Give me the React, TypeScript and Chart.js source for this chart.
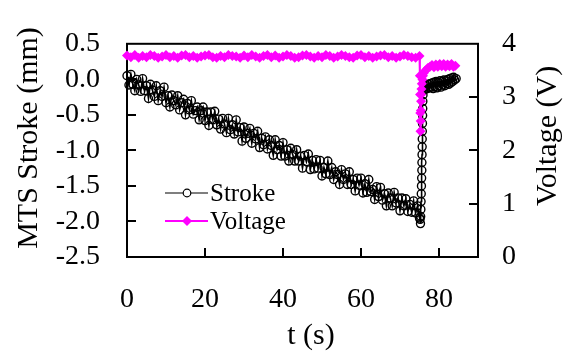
import React, { useEffect, useRef } from 'react';
import { Chart, registerables } from 'chart.js';

Chart.register(...registerables);

// ---- data ----
const strokeT = [
  0, 0.5, 1, 1.5, 2, 2.5, 3, 3.5, 4, 4.5,
  5, 5.5, 6, 6.5, 7, 7.5, 8, 8.5, 9, 9.5,
  10, 10.5, 11, 11.5, 12, 12.5, 13, 13.5, 14, 14.5,
  15, 15.5, 16, 16.5, 17, 17.5, 18, 18.5, 19, 19.5,
  20, 20.5, 21, 21.5, 22, 22.5, 23, 23.5, 24, 24.5,
  25, 25.5, 26, 26.5, 27, 27.5, 28, 28.5, 29, 29.5,
  30, 30.5, 31, 31.5, 32, 32.5, 33, 33.5, 34, 34.5,
  35, 35.5, 36, 36.5, 37, 37.5, 38, 38.5, 39, 39.5,
  40, 40.5, 41, 41.5, 42, 42.5, 43, 43.5, 44, 44.5,
  45, 45.5, 46, 46.5, 47, 47.5, 48, 48.5, 49, 49.5,
  50, 50.5, 51, 51.5, 52, 52.5, 53, 53.5, 54, 54.5,
  55, 55.5, 56, 56.5, 57, 57.5, 58, 58.5, 59, 59.5,
  60, 60.5, 61, 61.5, 62, 62.5, 63, 63.5, 64, 64.5,
  65, 65.5, 66, 66.5, 67, 67.5, 68, 68.5, 69, 69.5,
  70, 70.5, 71, 71.5, 72, 72.5, 73, 73.5, 74, 74.5, 75,
  75.15, 75.25, 75.3, 75.35, 75.4, 75.45, 75.5, 75.55, 75.6, 75.62,
  75.65, 75.68, 75.7, 75.73, 75.76, 75.8, 75.83, 75.86, 75.9,
  76, 76.25, 76.5, 76.75, 77, 77.25, 77.5, 77.75, 78, 78.25,
  78.5, 78.75, 79, 79.25, 79.5, 79.75, 80, 80.25, 80.5, 80.75,
  81, 81.25, 81.5, 81.75, 82, 82.25, 82.5, 82.75, 83, 83.25,
  83.5, 83.75, 84, 84.4,
];
const strokeV = [
  0.05, -0.08, 0.07, -0.07, -0.16, 0.00, -0.08, -0.17, 0.01, -0.16,
  -0.09, -0.27, -0.07, -0.15, -0.24, -0.09, -0.30, -0.16, -0.24, -0.11,
  -0.33, -0.23, -0.39, -0.22, -0.30, -0.36, -0.23, -0.43, -0.33, -0.28,
  -0.50, -0.34, -0.43, -0.30, -0.49, -0.44, -0.39, -0.57, -0.44, -0.39,
  -0.58, -0.46, -0.65, -0.46, -0.57, -0.45, -0.64, -0.56, -0.70, -0.55,
  -0.63, -0.75, -0.55, -0.71, -0.64, -0.77, -0.57, -0.74, -0.68, -0.87,
  -0.67, -0.83, -0.76, -0.69, -0.90, -0.76, -0.84, -0.73, -0.96, -0.83,
  -0.92, -0.81, -0.98, -0.85, -0.93, -1.07, -0.85, -0.99, -0.93, -1.08,
  -0.89, -1.08, -0.99, -1.15, -0.97, -1.06, -1.15, -0.99, -1.15, -1.08,
  -1.25, -1.07, -1.16, -1.05, -1.27, -1.14, -1.26, -1.13, -1.25, -1.14,
  -1.36, -1.24, -1.33, -1.15, -1.34, -1.24, -1.41, -1.30, -1.34, -1.48,
  -1.27, -1.41, -1.33, -1.48, -1.30, -1.48, -1.41, -1.57, -1.39, -1.49,
  -1.39, -1.60, -1.47, -1.59, -1.41, -1.58, -1.55, -1.69, -1.51, -1.65,
  -1.52, -1.70, -1.61, -1.78, -1.60, -1.67, -1.78, -1.59, -1.74, -1.67,
  -1.85, -1.67, -1.78, -1.68, -1.86, -1.76, -1.87, -1.71, -1.88, -1.78, -1.95,
  -1.97, -2.03, -1.93, -1.83, -1.72, -1.61, -1.50, -1.39, -1.28, -1.17,
  -1.06, -0.95, -0.84, -0.73, -0.62, -0.51, -0.41, -0.31, -0.22,
  -0.16, -0.11, -0.14, -0.09, -0.13, -0.07, -0.12, -0.06, -0.11, -0.05,
  -0.13, -0.04, -0.10, -0.03, -0.12, -0.04, -0.09, -0.02, -0.11, -0.03,
  -0.08, -0.01, -0.09, -0.02, -0.06, 0.00, -0.07, 0.01, -0.05, 0.02,
  -0.03, 0.03, -0.01, 0.01,
];
const voltT = [
  0, 1, 2, 3, 4, 5, 6, 7, 8, 9,
  10, 11, 12, 13, 14, 15, 16, 17, 18, 19,
  20, 21, 22, 23, 24, 25, 26, 27, 28, 29,
  30, 31, 32, 33, 34, 35, 36, 37, 38, 39,
  40, 41, 42, 43, 44, 45, 46, 47, 48, 49,
  50, 51, 52, 53, 54, 55, 56, 57, 58, 59,
  60, 61, 62, 63, 64, 65, 66, 67, 68, 69,
  70, 71, 72, 73, 74, 75,
  75.1, 75.15, 75.2, 75.25, 75.3, 75.35, 75.4, 75.45, 75.5, 75.6,
  75.75, 75.9, 76.1, 76.4, 76.8, 77.2, 77.7, 78.2, 78.7, 79.2,
  79.7, 80.2, 80.7, 81.2, 81.7, 82.2, 82.7, 83.2, 83.7, 84.2,
];
const voltV = [
  3.78, 3.75, 3.79, 3.74, 3.77, 3.75, 3.79, 3.77, 3.74, 3.76,
  3.79, 3.75, 3.77, 3.74, 3.78, 3.79, 3.75, 3.77, 3.74, 3.76,
  3.78, 3.79, 3.75, 3.74, 3.77, 3.75, 3.79, 3.77, 3.76, 3.74,
  3.78, 3.75, 3.79, 3.76, 3.74, 3.77, 3.79, 3.75, 3.78, 3.74,
  3.76, 3.79, 3.77, 3.74, 3.75, 3.78, 3.79, 3.76, 3.74, 3.77,
  3.75, 3.79, 3.77, 3.74, 3.76, 3.79, 3.77, 3.75, 3.74, 3.78,
  3.79, 3.75, 3.77, 3.74, 3.76, 3.78, 3.79, 3.75, 3.77, 3.74,
  3.76, 3.79, 3.77, 3.75, 3.74, 3.77,
  3.40, 3.05, 2.70, 2.36, 2.55, 2.75, 2.92, 3.05, 3.15, 3.25,
  3.33, 3.40, 3.45, 3.49, 3.52, 3.55, 3.57, 3.60, 3.56, 3.61,
  3.57, 3.62, 3.58, 3.62, 3.57, 3.61, 3.58, 3.62, 3.57, 3.59,
];
const xTicks = [0, 20, 40, 60, 80];
const yTicks = [-2.5, -2, -1.5, -1, -0.5, 0, 0.5];
const y1Ticks = [0, 1, 2, 3, 4];
const seriesLabels = ['Stroke', 'Voltage'];
const xTitle = 't (s)';
const yTitle = 'MTS Stroke (mm)';
const y1Title = 'Voltage (V)';

const SERIF = '"Liberation Serif"';
const MAGENTA = '#ff00ff';

const decorPlugin = {
  id: 'decor',
  beforeDatasetsDraw(chart: any) {
    const { ctx, chartArea } = chart;
    const { left, right, top, bottom } = chartArea;
    ctx.save();
    ctx.strokeStyle = '#000';
    ctx.lineWidth = 2;
    ctx.strokeRect(left, top, right - left, bottom - top);
    const L = 9;
    ctx.beginPath();
    const xs = chart.scales.x;
    xs.ticks.forEach((t: any) => {
      const p = Math.round(xs.getPixelForValue(t.value));
      if (p > left + 2 && p < right - 2) {
        ctx.moveTo(p, bottom);
        ctx.lineTo(p, bottom - L);
      }
    });
    const ys = chart.scales.y;
    ys.ticks.forEach((t: any) => {
      const p = Math.round(ys.getPixelForValue(t.value));
      if (p > top + 2 && p < bottom - 2) {
        ctx.moveTo(left, p);
        ctx.lineTo(left + L, p);
      }
    });
    const y1s = chart.scales.y1;
    y1s.ticks.forEach((t: any) => {
      const p = Math.round(y1s.getPixelForValue(t.value));
      if (p > top + 2 && p < bottom - 2) {
        ctx.moveTo(right, p);
        ctx.lineTo(right - L, p);
      }
    });
    ctx.stroke();
    ctx.restore();
  },
  afterDraw(chart: any) {
    const { ctx } = chart;
    ctx.save();
    ctx.fillStyle = '#000';
    ctx.textAlign = 'center';
    ctx.textBaseline = 'middle';
    ctx.font = `30px ${SERIF}`;
    ctx.fillText(xTitle, 311, 336);
    ctx.save();
    ctx.translate(29, 138);
    ctx.rotate(-Math.PI / 2);
    ctx.fillText(yTitle, 0, 0);
    ctx.restore();
    ctx.save();
    ctx.translate(548, 136);
    ctx.rotate(-Math.PI / 2);
    ctx.fillText(y1Title, 0, 0);
    ctx.restore();

    // legend inside plot
    const ds = chart.data.datasets;
    ctx.font = `25px ${SERIF}`;
    ctx.textAlign = 'left';
    ds.forEach((d: any, i: number) => {
      const y = 193 + i * 28;
      ctx.strokeStyle = d.borderColor;
      ctx.lineWidth = i === 0 ? 1.2 : 2;
      ctx.beginPath();
      ctx.moveTo(165, y);
      ctx.lineTo(208, y);
      ctx.stroke();
      const cx = 187;
      if (d.pointStyle === 'circle') {
        ctx.beginPath();
        ctx.arc(cx, y, 3.8, 0, Math.PI * 2);
        ctx.fillStyle = '#fff';
        ctx.fill();
        ctx.lineWidth = 1.2;
        ctx.strokeStyle = d.pointBorderColor;
        ctx.stroke();
      } else {
        const r = d.pointRadius;
        ctx.beginPath();
        ctx.moveTo(cx, y - r);
        ctx.lineTo(cx + r, y);
        ctx.lineTo(cx, y + r);
        ctx.lineTo(cx - r, y);
        ctx.closePath();
        ctx.fillStyle = d.pointBackgroundColor;
        ctx.fill();
      }
      ctx.fillStyle = '#000';
      ctx.fillText(d.label, 210, y + 1);
    });
    ctx.restore();
  },
};

export default function App() {
  const ref = useRef<HTMLCanvasElement | null>(null);
  useEffect(() => {
    if (!ref.current) return;
    const tickFont = { family: SERIF, size: 28 };
    const chart = new Chart(ref.current, {
      type: 'line',
      data: {
        datasets: [
          {
            label: seriesLabels[0],
            data: strokeT.map((t, i) => ({ x: t, y: strokeV[i] })),
            yAxisID: 'y',
            borderColor: '#000',
            borderWidth: 1.6,
            pointStyle: 'circle',
            pointRadius: 4,
            pointBorderWidth: 1.4,
            pointBackgroundColor: 'rgba(255,255,255,0)',
            pointBorderColor: '#000',
            order: 2,
            clip: false,
          } as any,
          {
            label: seriesLabels[1],
            data: voltT.map((t, i) => ({ x: t, y: voltV[i] })),
            yAxisID: 'y1',
            borderColor: MAGENTA,
            backgroundColor: MAGENTA,
            borderWidth: 2,
            pointStyle: 'rectRot',
            pointRadius: 5,
            pointBorderWidth: 0,
            pointBackgroundColor: MAGENTA,
            pointBorderColor: MAGENTA,
            order: 1,
            clip: false,
          } as any,
        ],
      },
      options: {
        responsive: false,
        animation: false,
        font: { family: SERIF },
        layout: { padding: { top: 20, left: 0, right: 0, bottom: 0 } },
        plugins: { legend: { display: false }, tooltip: { enabled: false } },
        scales: {
          x: {
            type: 'linear',
            position: 'bottom',
            min: 0,
            max: 90,
            afterFit: (s: any) => { s.height = 94; },
            afterBuildTicks: (s: any) => { s.ticks = xTicks.map((v) => ({ value: v })); },
            grid: { display: false, drawTicks: false },
            border: { display: false },
            ticks: { font: tickFont, color: '#000', padding: 26, maxRotation: 0, autoSkip: false },
          },
          y: {
            type: 'linear',
            position: 'left',
            min: -2.5,
            max: 0.5,
            afterFit: (s: any) => { s.width = 127; },
            afterBuildTicks: (s: any) => { s.ticks = yTicks.map((v) => ({ value: v })); },
            grid: { display: false, drawTicks: false },
            border: { display: false },
            ticks: {
              font: tickFont, color: '#000', padding: 27, autoSkip: false,
              callback: (v: any) => Number(v).toFixed(1),
            },
          },
          y1: {
            type: 'linear',
            position: 'right',
            min: 0,
            max: 4,
            afterFit: (s: any) => { s.width = 86; },
            afterBuildTicks: (s: any) => { s.ticks = y1Ticks.map((v) => ({ value: v })); },
            grid: { display: false, drawTicks: false },
            border: { display: false },
            ticks: { font: tickFont, color: '#000', padding: 24, autoSkip: false },
          },
        },
      } as any,
      plugins: [decorPlugin],
    });
    return () => chart.destroy();
  }, []);
  return (
    <div style={{ position: 'absolute', left: 0, top: 0, width: 564, height: 351, background: '#fff' }}>
      <canvas ref={ref} width={564} height={351} style={{ display: 'block' }} />
    </div>
  );
}
